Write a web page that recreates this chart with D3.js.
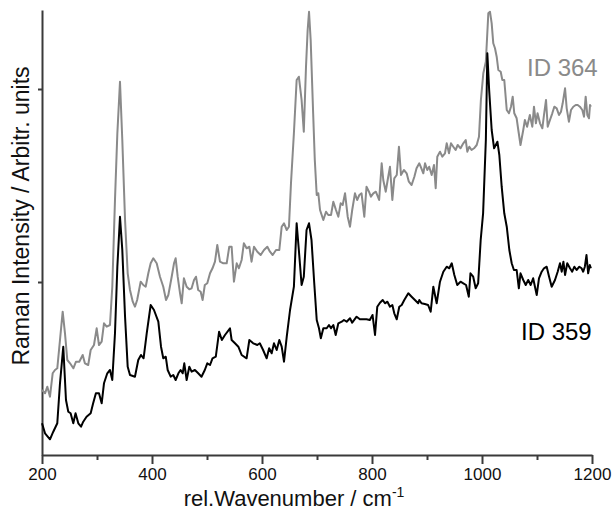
<!DOCTYPE html>
<html>
<head>
<meta charset="utf-8">
<script src="https://cdn.jsdelivr.net/npm/d3@7"></script>
<style>
    body { margin: 0; background: #fff; }
    svg { display: block; font-family: "Liberation Sans", Arial, sans-serif; }
    .axis path, .axis line { stroke: #3a3a3a; stroke-width: 2; }
    .axis text { font-size: 17px; fill: #111; }
</style>
</head>
<body>
<div id="chart"></div>
<script>
// Raman spectra, values (intensity in arbitrary units)
const wavenumber359 = [200, 205.5, 214.5, 220.5, 227.8, 232.7, 238.7, 243.6, 247.8, 252, 256.9, 261, 266, 271, 275, 281, 288.5, 293, 298, 303.6,
    308.5, 312.7, 318.7, 323.6, 327.8, 332.7, 337, 341.8, 346, 351, 355.8, 360, 369, 375, 380, 384.7, 390.4, 397.6, 403.6, 411.5,
    416.4, 420.5, 425, 428.5, 434, 438.7, 443, 448, 452, 455.8, 458.7, 463, 467.8, 472, 478, 484, 490, 496, 500.5, 505.5,
    510, 516, 522, 527, 532.7, 541.8, 544.8, 550.9, 557, 563, 572, 577, 584, 591.5, 596, 602, 608.5, 613, 617.6, 621.8,
    626.7, 631.5, 635.8, 640, 645, 651, 658, 663, 667, 672, 676, 681, 685.5, 690, 695, 699.5, 703.6, 707, 711.5, 717.6,
    721.8, 725.5, 729.7, 734, 738.8, 745, 749, 754, 760, 764, 772, 778, 790, 796, 801, 805.5, 809.6, 814.5, 819.5, 823.6,
    828, 832.7, 837, 840.5, 845, 849.6, 854, 858.7, 866, 872, 878, 884, 886, 890, 896, 902, 906.7, 911.5, 914.5, 917.6,
    923.6, 929.7, 935.8, 940.5, 945, 949.7, 955, 961, 966, 971, 976, 979, 984, 988.5, 993, 997.6, 1002, 1007, 1009.7, 1013,
    1017.6, 1022, 1028, 1031.5, 1035.8, 1040.5, 1045, 1049.7, 1054, 1058, 1063, 1067, 1070, 1075, 1079.5, 1084, 1088.5, 1093, 1099.5, 1103.6,
    1108.5, 1112.7, 1117.6, 1122, 1126.7, 1132.7, 1137.6, 1141.8, 1145, 1148, 1151, 1155, 1160, 1164, 1168, 1172, 1177, 1181, 1184, 1187,
    1190, 1193, 1196, 1198];
const intensity359 = [31.7, 21.7, 15.7, 23.3, 31.7, 71.7, 108.3, 55, 43.3, 41.7, 31.7, 41.7, 31.7, 28.3, 33.3, 38.3, 41.7, 51.7, 61.7, 61.7,
    51.7, 71.7, 81.7, 85, 75, 121.7, 188.3, 238.3, 205, 138.3, 88.3, 80, 78.3, 95, 100, 96.7, 121.7, 150, 145, 133.3,
    108.3, 96.7, 98.3, 85, 78.3, 80, 75, 81.7, 85, 81.7, 91.7, 75, 88.3, 83.3, 85, 81.7, 78.3, 85, 91.7, 90,
    96.7, 98.3, 123.3, 115, 120, 126.7, 115, 111.7, 108.3, 100, 96.7, 115, 111.7, 110, 111.7, 105, 96.7, 106.7, 101.7, 111.7,
    105, 115, 108.3, 93.3, 118.3, 145, 168.3, 231.7, 205, 170, 178.3, 225, 231.7, 215, 171.7, 135, 126.7, 116.7, 126.7, 126.7,
    130, 126.7, 130, 120, 131.7, 133.3, 135, 133.3, 136.7, 132.3, 138.3, 135.7, 135.7, 135, 140, 120, 148.3, 152.3, 155, 151.7,
    153.3, 148.3, 150, 141.7, 135.7, 148.3, 150, 155, 161.7, 158.3, 155, 151.7, 155, 151.7, 151, 150, 143.3, 168.3, 160, 151.7,
    173.3, 183.3, 188.3, 186.7, 191.7, 180, 170, 173.3, 171.7, 170, 158.3, 181.7, 178.3, 166.7, 171.7, 215, 241.7, 315, 401.7, 365,
    325, 306.7, 313.3, 300, 268.3, 241.7, 228.3, 205, 191.7, 185, 185, 166.7, 181.7, 175, 170, 175, 170, 176.7, 160, 176.7,
    183.3, 186.7, 188.3, 178.3, 168.3, 175, 183.3, 191.7, 183.3, 193.3, 180, 191.7, 186.7, 183.3, 188.3, 185, 188.3, 186.7, 183.3, 188.3,
    200, 181.7, 190, 186.7];

const wavenumber364 = [200, 205.5, 209.7, 214.5, 219.4, 223.6, 227.8, 232.7, 237.6, 241.8, 246, 251, 257, 261.8, 267.8, 274, 278, 284, 288.5, 294.5,
    299.4, 303.6, 308.5, 312.7, 317.6, 323.6, 327.8, 332.7, 337, 341.8, 346, 351, 355.8, 360, 365, 369, 373, 379.4, 384.2, 388.5,
    393.3, 397.6, 402.4, 408.5, 414.5, 420.5, 425.5, 429.7, 435.8, 440, 443, 446.7, 451, 454, 458, 463, 467.8, 472, 476.4, 480,
    484, 488.5, 492, 496, 500.5, 505.5, 510, 514.5, 518.7, 523.6, 529.7, 535.8, 540.5, 544.8, 549, 554, 558, 563, 567, 572,
    577, 581, 585.5, 591.5, 597.6, 603.6, 609.7, 614.5, 619.4, 625.5, 631.5, 635.8, 640, 645, 649, 652.7, 658, 663, 667, 672,
    676, 680, 683, 685.5, 688.5, 693, 696, 699.5, 702.4, 705.5, 711.5, 716.4, 720.5, 725.5, 729.7, 734.5, 738.8, 743, 746.7, 751,
    755.8, 760, 764, 769, 773, 777, 781, 786, 790, 794.5, 798, 802.4, 807, 813, 817.6, 820.5, 825, 828.5, 832.7, 837,
    840.5, 845, 849, 852.7, 858, 863, 867, 872, 877, 881, 886, 888.5, 893.3, 896.4, 900.5, 904, 908.5, 912.7, 915.8, 918.7,
    923.6, 927.8, 932.7, 935.8, 940, 943.6, 947.8, 952, 955.8, 961, 966, 970.4, 973.3, 977, 981, 985.5, 990.4, 994.5, 998, 1002.4,
    1007, 1011.5, 1014.5, 1017.6, 1020.5, 1023.6, 1026.7, 1029.7, 1034, 1037, 1040.5, 1045, 1049, 1052.7, 1055.8, 1058.7, 1063, 1066, 1070, 1075,
    1078, 1082, 1087, 1091.5, 1094.5, 1098, 1101, 1105.5, 1109.7, 1112.7, 1116.4, 1119.5, 1123.6, 1127.8, 1131.5, 1135.8, 1140, 1143.6, 1146.7, 1151,
    1154, 1158, 1161.8, 1166, 1170.4, 1174, 1178, 1182.4, 1185.5, 1188.5, 1191.5, 1194.5, 1196.4, 1198];
const intensity364 = [65, 61.7, 68.3, 58.3, 81.7, 85, 86.7, 115, 143.3, 121.7, 95, 91.7, 86.7, 93.3, 93.3, 100, 91.7, 90, 105, 110,
    126.7, 110, 113.3, 131.7, 128.3, 130, 168.3, 255, 321.7, 373.3, 315, 235, 181.7, 165, 153.3, 148.3, 155, 173.3, 170, 168.3,
    181.7, 191.7, 196.7, 191.7, 178.3, 168.3, 155, 160, 178.3, 191.7, 196.7, 178.3, 161.7, 151.7, 176.7, 168.3, 165.7, 166.7, 175, 178.3,
    165, 163.3, 155, 170, 171.7, 181.7, 186.7, 193.3, 210, 193.3, 191.7, 191.7, 208.3, 208.3, 173.3, 191.7, 186.7, 195, 211.7, 206.7,
    208.3, 193.3, 208.3, 203.3, 200, 205, 208.3, 203.3, 200, 205, 205, 228.3, 231.7, 225, 228.3, 271.7, 321.7, 375, 378.3, 355,
    323.3, 388.3, 425, 443.3, 415, 341.7, 295, 260, 261.7, 245, 235, 243.3, 240, 240, 253.3, 245, 238.3, 251.7, 250, 261.7,
    238.3, 228.3, 245, 261.7, 255, 260, 261.7, 238.3, 268.3, 263.3, 258.3, 261.7, 263.3, 255, 291.7, 275, 263.3, 275, 288.3, 255,
    276.7, 280, 308.3, 280, 285, 281.7, 273.3, 270, 278.3, 286.7, 291.7, 288.3, 281.7, 291.7, 285, 288.3, 280, 290, 266.7, 298.3,
    303.3, 298.3, 301.7, 311.7, 301.7, 311.7, 308.3, 305, 310, 306.7, 311.7, 315, 303.3, 308.3, 305, 306.7, 310, 318.3, 355, 381.7,
    393.3, 441.7, 443.3, 431.7, 411.7, 406.7, 398.3, 385, 383.3, 375, 375, 345, 341.7, 348.3, 358.3, 341.7, 336.7, 325, 310, 325,
    335, 328.3, 340, 328.3, 348.3, 331.7, 341.7, 331.7, 326.7, 340, 355, 328.3, 335, 341.7, 348.3, 346.7, 340, 343.3, 351.7, 366.7,
    346.7, 333.3, 345, 348.3, 350, 350, 348.3, 345, 338.3, 358.3, 340, 336.7, 350, 348.3];

const xTicks = [200, 400, 600, 800, 1000, 1200];
const xMinorTicks = [300, 500, 700, 900, 1100];
const yTicks = [173, 366];

const width = 613;
const height = 518;
const margin = {top: 10, right: 21, bottom: 63, left: 42};

const x = d3.scaleLinear()
    .domain([200, 1200])
    .range([margin.left, width - margin.right]);

const y = d3.scaleLinear()
    .domain([0, 445])
    .range([height - margin.bottom, margin.top]);

const svg = d3.select("#chart").append("svg")
    .attr("width", width)
    .attr("height", height);

const line = d3.line()
    .x(d => x(d[0]))
    .y(d => y(d[1]));

// Minor ticks first, then the labelled axis on top.
svg.append("g")
    .attr("class", "axis")
    .attr("transform", `translate(0, ${y(0)})`)
    .call(d3.axisBottom(x).tickValues(xMinorTicks).tickSize(5).tickFormat(""))
    .select(".domain").remove();

svg.append("g")
    .attr("class", "axis x-axis")
    .attr("transform", `translate(0, ${y(0)})`)
    .call(d3.axisBottom(x).tickValues(xTicks).tickSize(9).tickSizeOuter(0).tickPadding(4).tickFormat(d3.format("d")));

svg.append("g")
    .attr("class", "axis y-axis")
    .attr("transform", `translate(${x(200)}, 0)`)
    .call(d3.axisLeft(y).tickValues(yTicks).tickSize(4).tickSizeOuter(0).tickFormat(""));

// The two spectra.
svg.append("path")
    .attr("d", line(d3.zip(wavenumber364, intensity364)))
    .attr("fill", "none")
    .attr("stroke", "#8a8a8a")
    .attr("stroke-width", 2)
    .attr("stroke-linejoin", "round");

svg.append("path")
    .attr("d", line(d3.zip(wavenumber359, intensity359)))
    .attr("fill", "none")
    .attr("stroke", "#000")
    .attr("stroke-width", 2)
    .attr("stroke-linejoin", "round");

// Series labels.
svg.append("text")
    .attr("x", 527)
    .attr("y", 76)
    .attr("fill", "#8a8a8a")
    .style("font-size", "24px")
    .text("ID 364");

svg.append("text")
    .attr("x", 521)
    .attr("y", 340)
    .attr("fill", "#000")
    .style("font-size", "24px")
    .text("ID 359");

// Axis titles.
const xLabel = svg.append("text")
    .attr("x", 294)
    .attr("y", 506)
    .attr("text-anchor", "middle")
    .style("font-size", "22px")
    .attr("fill", "#111")
    .text("rel.Wavenumber / cm");
xLabel.append("tspan")
    .attr("dy", -9)
    .style("font-size", "14px")
    .text("-1");

svg.append("text")
    .attr("transform", "translate(29, 216) rotate(-90)")
    .attr("text-anchor", "middle")
    .style("font-size", "23px")
    .attr("fill", "#111")
    .text("Raman Intensity / Arbitr. units");
</script>
</body>
</html>
